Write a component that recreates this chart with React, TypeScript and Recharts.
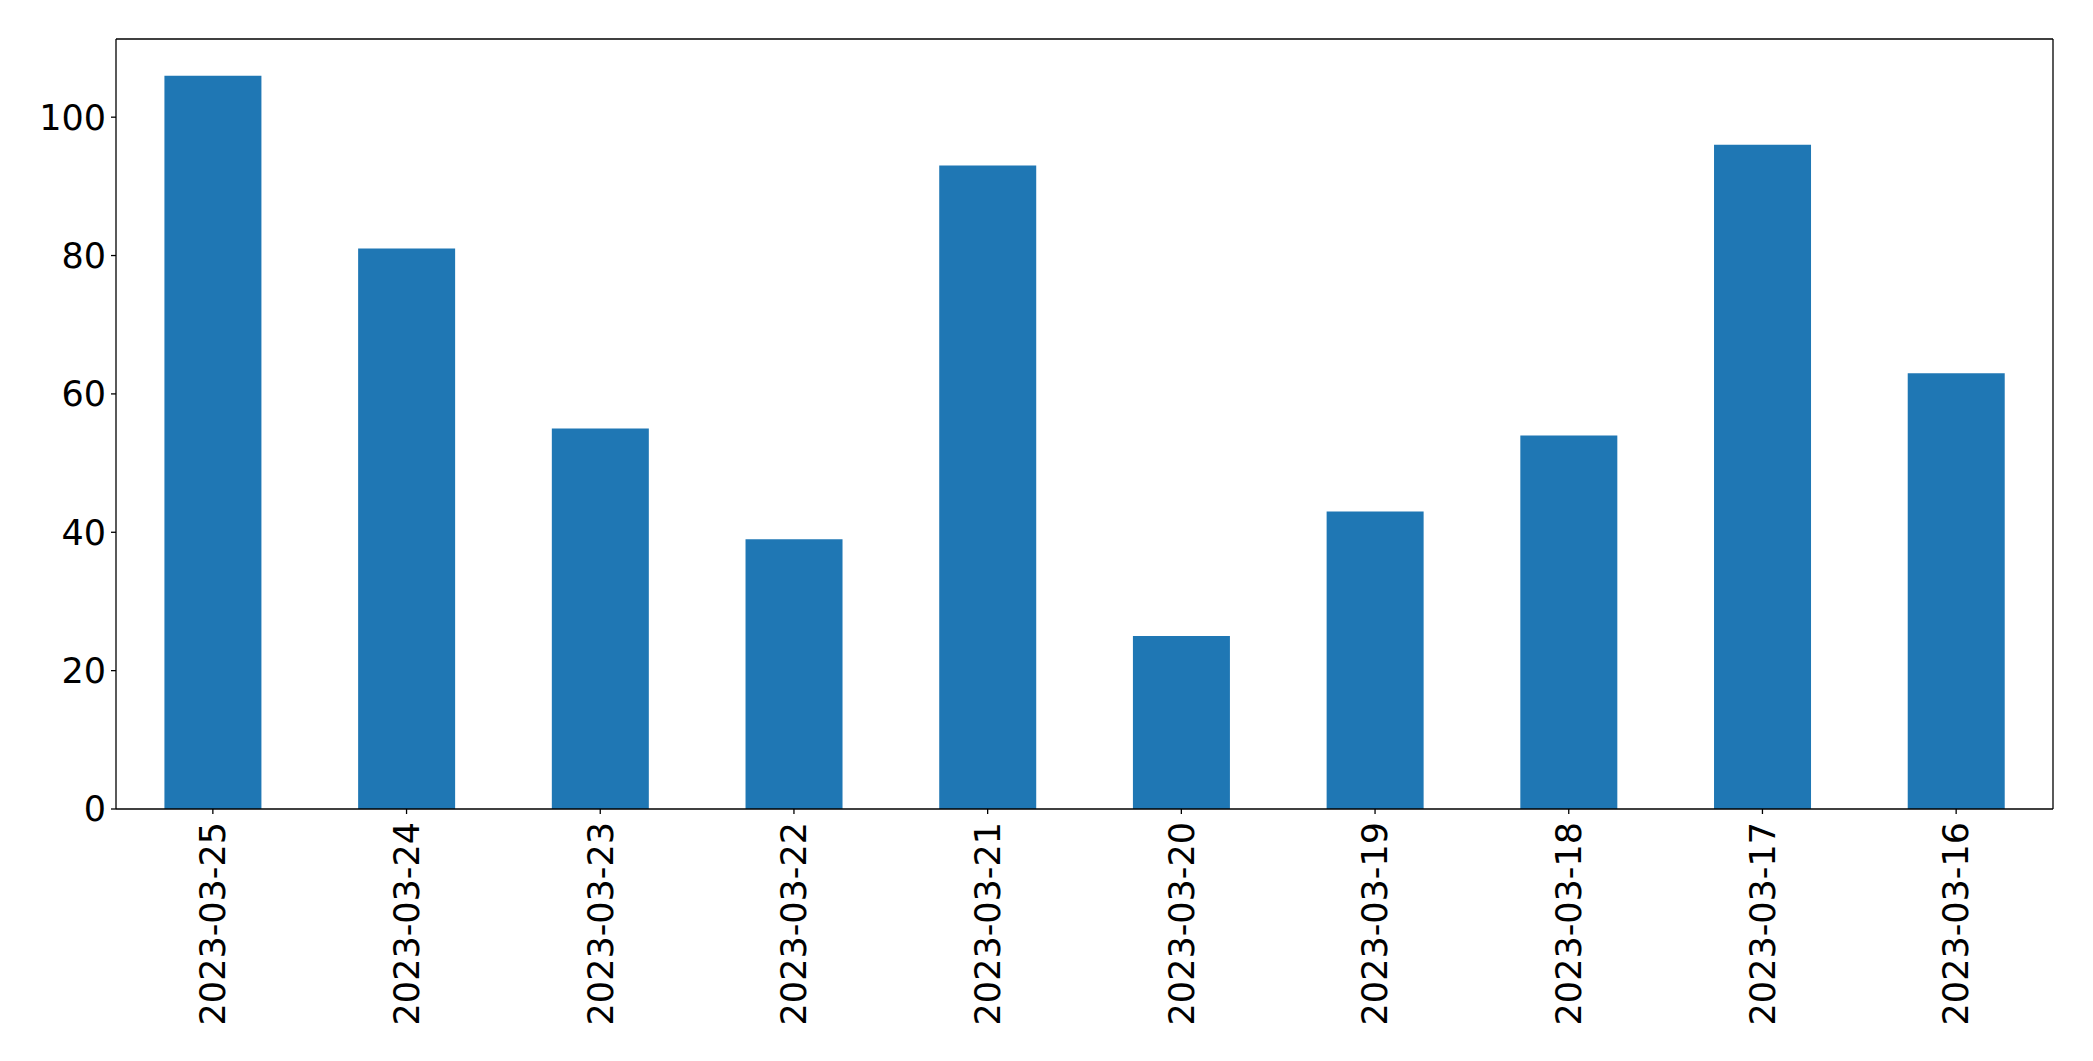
import React from 'react';
import { BarChart, Bar, XAxis, YAxis } from 'recharts';

const dates = ['2023-03-25', '2023-03-24', '2023-03-23', '2023-03-22', '2023-03-21', '2023-03-20', '2023-03-19', '2023-03-18', '2023-03-17', '2023-03-16'];
const counts = [106, 81, 55, 39, 93, 25, 43, 54, 96, 63];
const yTicks = [0, 20, 40, 60, 80, 100];

const data = dates.map((d, i) => ({ date: d, count: counts[i] }));

const FONT = '"DejaVu Sans", sans-serif';

const XTick = (props: any) => {
  const { x, y, payload } = props;
  return (
    <text
      transform={`translate(${x},${y}) rotate(-90)`}
      textAnchor="end"
      dy="0.35em"
      fontSize={35}
      fontFamily={FONT}
      fill="#000"
    >
      {payload.value}
    </text>
  );
};

const YTick = (props: any) => {
  const { x, y, payload } = props;
  return (
    <text x={x} y={y} textAnchor="end" dy="0.355em" fontSize={35} fontFamily={FONT} fill="#000">
      {payload.value}
    </text>
  );
};

export default function App() {
  return (
    <div style={{ position: 'absolute', left: 0, top: 0, background: '#fff' }}>
      <BarChart
        width={2093}
        height={1061}
        data={data}
        margin={{ top: 38, right: 39, left: 0, bottom: 0 }}
        barCategoryGap="25%"
      >
        <XAxis
          dataKey="date"
          height={252}
          interval={0}
          tick={<XTick />}
          tickSize={5}
          tickMargin={8}
          tickLine={{ stroke: '#000', strokeWidth: 1.3 }}
          axisLine={{ stroke: '#000', strokeWidth: 1.3 }}
        />
        <XAxis
          xAxisId="top"
          dataKey="date"
          orientation="top"
          height={1}
          tick={false}
          tickLine={false}
          axisLine={{ stroke: '#000', strokeWidth: 1.3 }}
        />
        <YAxis
          width={116}
          domain={[0, 111.3]}
          ticks={yTicks}
          allowDataOverflow
          tick={<YTick />}
          tickSize={5}
          tickMargin={5}
          tickLine={{ stroke: '#000', strokeWidth: 1.3 }}
          axisLine={{ stroke: '#000', strokeWidth: 1.3 }}
        />
        <YAxis
          yAxisId="right"
          orientation="right"
          width={1}
          domain={[0, 111.3]}
          tick={false}
          tickLine={false}
          axisLine={{ stroke: '#000', strokeWidth: 1.3 }}
        />
        <Bar dataKey="count" fill="#1f77b4" isAnimationActive={false} />
      </BarChart>
    </div>
  );
}
